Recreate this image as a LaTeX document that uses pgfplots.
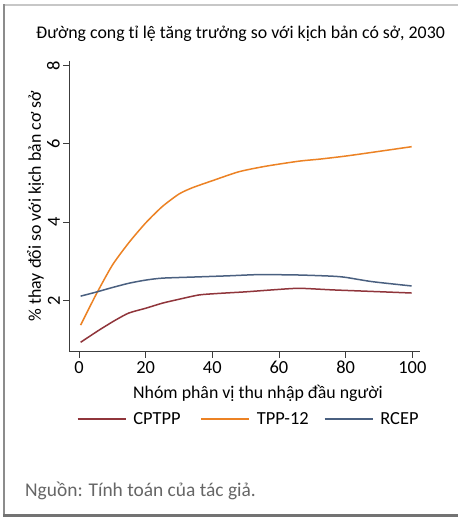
\documentclass[border=0pt]{standalone}
\usepackage{fontspec}
\setmainfont{Carlito}
\usepackage{pgfplots}
\pgfplotsset{compat=1.18}
\definecolor{cmaroon}{RGB}{144,53,59}
\definecolor{corange}{RGB}{236,130,36}
\definecolor{cblue}{RGB}{74,96,128}
\definecolor{caxis}{RGB}{60,60,60}
\newcommand{\fs}{\fontsize{17.9}{21}\selectfont}
\newcommand{\fst}{\fontsize{18.5}{22}\selectfont}
\begin{document}
\begin{tikzpicture}
\useasboundingbox (0,0) rectangle (458bp,518bp);
\fill[white] (0,0) rectangle (458bp,518bp);
\draw[color=black!22, line width=1.2bp] (4bp,513bp) -- (458bp,513bp);
\draw[color=black!45, line width=1.2bp] (4bp,513.6bp) -- (4bp,3bp);
\draw[color=black!55, line width=3bp] (3.4bp,2bp) -- (458bp,2bp);
\node[anchor=base, font=\fs, inner sep=0pt] at (240.5bp,479bp) {Đường cong tỉ lệ tăng trưởng so với kịch bản có sở, 2030};
\node[anchor=base west, font=\fontsize{19.5}{23}\selectfont, text=black!60, inner sep=0pt] at (25bp,21.3bp) {Nguồn: Tính toán của tác giả.};
\begin{axis}[
  at={(69.3bp,166.3bp)}, anchor=south west,
  scale only axis, width=350.7bp, height=290.7bp,
  xmin=-2.9, xmax=102.3, ymin=0.69, ymax=8.12,
  axis lines=left, axis line style={-, color=caxis, line width=0.9bp},
  tick align=outside, major tick length=6bp,
  tick style={color=caxis, line width=0.9bp},
  xtick={0,20,40,60,80,100}, ytick={2,4,6,8},
  minor tick num=0,
  /pgf/number format/assume math mode=true,
  tick label style={font=\fst},
  yticklabel style={rotate=90, anchor=south},
  xlabel={Nhóm phân vị thu nhập đầu người},
  ylabel={\% thay đổi so với kịch bản cơ sở},
  label style={font=\fs},
  xlabel style={at={(axis description cs:0.538,-0.1627)}, anchor=base, inner sep=0pt},
  ylabel style={at={(axis description cs:-0.0807,0.5)}, anchor=base, inner sep=0pt},
  legend columns=3,
  legend style={at={(axis description cs:0.021,-0.2315)}, anchor=west, draw=none, fill=none, inner sep=0pt, font=\fst,
    nodes={text width=60bp, align=left, inner xsep=7bp, inner ysep=0pt}},
  legend image code/.code={\draw[#1] (0bp,0bp) -- (48bp,0bp);},
  every axis plot/.append style={line width=1.5bp, smooth, tension=0.4},
]
\addplot[color=cmaroon] coordinates {
(0.5,0.93) (6,1.24) (11,1.50) (15,1.68) (20,1.80) (25,1.93) (30,2.03) (36,2.14) (42,2.18) (50,2.22) (58,2.27) (66,2.31) (76,2.27) (88,2.23) (99.8,2.19)};
\addlegendentry{CPTPP}
\addplot[color=corange] coordinates {
(0.5,1.37) (5,2.13) (10,2.90) (15,3.48) (20,3.98) (25,4.40) (30,4.72) (34,4.88) (40,5.06) (48,5.29) (56,5.43) (66,5.56) (72,5.61) (80,5.69) (90,5.81) (99.8,5.93)};
\addlegendentry{TPP-12}
\addplot[color=cblue] coordinates {
(0.5,2.11) (5,2.21) (10,2.33) (15,2.44) (20,2.52) (25,2.57) (35,2.60) (45,2.63) (54,2.66) (66,2.65) (76,2.62) (80,2.59) (88,2.48) (99.8,2.37)};
\addlegendentry{RCEP}
\end{axis}
\end{tikzpicture}
\end{document}
